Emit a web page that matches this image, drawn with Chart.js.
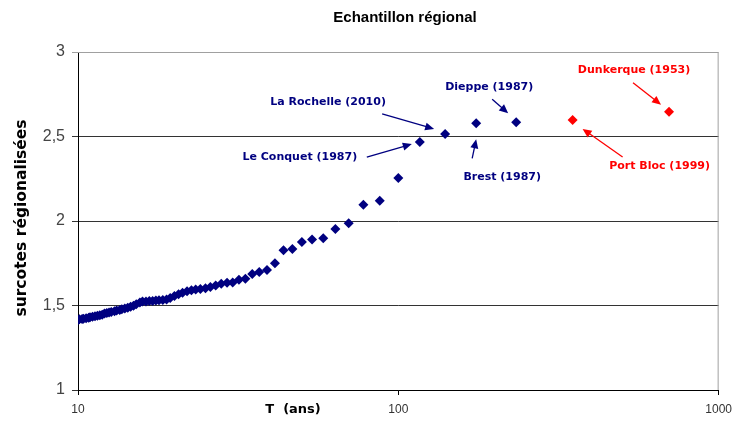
<!DOCTYPE html>
<html>
<head>
<meta charset="utf-8">
<script src="https://cdn.jsdelivr.net/npm/chart.js@4.4.0/dist/chart.umd.min.js"></script>
<style>
  html, body { margin: 0; padding: 0; background: #fff; }
  #wrap { width: 739px; height: 426px; }
</style>
</head>
<body>
<div id="wrap"><canvas id="chart"></canvas></div>
<script>
// --- DATA ---
const returnPeriods = [233.3, 175, 140, 116.7, 100, 87.5, 77.8, 70, 63.6, 58.3, 53.8, 50, 46.7, 43.8, 41.2, 38.9,
  36.8, 35, 33.3, 31.8, 30.4, 29.2, 28, 26.9, 25.9, 25, 24.1, 23.3, 22.6, 21.9, 21.2, 20.6, 20, 19.4, 18.9, 18.4,
  17.9, 17.5, 17.1, 16.7, 16.3, 15.9, 15.6, 15.2, 14.9, 14.6, 14.3, 14, 13.7, 13.5, 13.2, 13, 12.7, 12.5, 12.3,
  12.1, 11.9, 11.7, 11.5, 11.3, 11.1, 10.9, 10.8, 10.6, 10.4, 10.3, 10.1, 10];
const surcotes = [2.584, 2.578, 2.515, 2.467, 2.254, 2.12, 2.096, 1.986, 1.953, 1.898, 1.891, 1.876, 1.834, 1.827,
  1.750, 1.710, 1.698, 1.686, 1.659, 1.653, 1.636, 1.635, 1.629, 1.619, 1.609, 1.602, 1.597, 1.594, 1.590, 1.585,
  1.576, 1.566, 1.556, 1.545, 1.535, 1.533, 1.531, 1.529, 1.527, 1.526, 1.524, 1.523, 1.518, 1.507, 1.498, 1.492,
  1.487, 1.482, 1.478, 1.474, 1.470, 1.466, 1.462, 1.458, 1.455, 1.452, 1.446, 1.443, 1.440, 1.437, 1.433, 1.430,
  1.428, 1.425, 1.422, 1.420, 1.418, 1.414];
const redPeriods = [350, 700];
const redSurcotes = [2.598, 2.647];
const xTicks = [10, 100, 1000];
const yTicks = [1, 1.5, 2, 2.5, 3];

// labelled events: which point they point to
const eventLabels = ["La Rochelle (2010)", "Le Conquet (1987)", "Dieppe (1987)", "Brest (1987)", "Dunkerque (1953)", "Port Bloc (1999)"];
const eventT = [140, 116.7, 233.3, 175, 700, 350];
const eventV = [2.515, 2.467, 2.584, 2.578, 2.647, 2.598];
const eventRed = [false, false, false, false, true, true];

const NAVY = '#000080';
const RED = '#ff0000';

// pixel offsets from the point: arrow tip, arrow tail, label centre
const eventLayout = [
  { tip: [-11, -5], tail: [-63, -20], label: [-117, -32] },
  { tip: [-8, 2], tail: [-53, 15], label: [-120, 15] },
  { tip: [-8, -9], tail: [-24, -23], label: [-27, -35] },
  { tip: [0, 16], tail: [-4, 35], label: [26, 54] },
  { tip: [-8, -7], tail: [-36, -29], label: [-35, -42] },
  { tip: [10, 9], tail: [50, 37], label: [87, 46] },
];

function arrow(ctx, x1, y1, x2, y2, color) {
  const ang = Math.atan2(y2 - y1, x2 - x1);
  const len = 9, half = 4;
  ctx.strokeStyle = color;
  ctx.fillStyle = color;
  ctx.lineWidth = 1.3;
  ctx.beginPath();
  ctx.moveTo(x1, y1);
  ctx.lineTo(x2 - Math.cos(ang) * len * 0.8, y2 - Math.sin(ang) * len * 0.8);
  ctx.stroke();
  ctx.beginPath();
  ctx.moveTo(x2, y2);
  ctx.lineTo(x2 - len * Math.cos(ang) + half * Math.sin(ang), y2 - len * Math.sin(ang) - half * Math.cos(ang));
  ctx.lineTo(x2 - len * Math.cos(ang) - half * Math.sin(ang), y2 - len * Math.sin(ang) + half * Math.cos(ang));
  ctx.closePath();
  ctx.fill();
}

const decor = {
  id: 'decor',
  afterDraw(chart) {
    const ctx = chart.ctx;
    const area = chart.chartArea;
    const xs = chart.scales.x, ys = chart.scales.y;
    ctx.save();

    // light frame on top and right
    ctx.strokeStyle = '#a0a0a0';
    ctx.lineWidth = 1;
    ctx.beginPath();
    ctx.moveTo(area.left, area.top + 0.5);
    ctx.lineTo(area.right - 0.5, area.top + 0.5);
    ctx.lineTo(area.right - 0.5, area.bottom);
    ctx.stroke();

    // titles
    ctx.fillStyle = '#000';
    ctx.textAlign = 'center';
    ctx.textBaseline = 'middle';
    ctx.font = 'bold 15px "Liberation Sans", Arial, sans-serif';
    ctx.fillText('Echantillon régional', 405, 18);
    ctx.font = 'bold 13px "DejaVu Sans", sans-serif';
    ctx.fillText('T  (ans)', 293, 410);
    ctx.save();
    ctx.translate(22, 218);
    ctx.rotate(-Math.PI / 2);
    ctx.font = 'bold 15.5px "DejaVu Sans", sans-serif';
    ctx.fillText('surcotes régionalisées', 0, 0);
    ctx.restore();

    // annotations
    ctx.font = 'bold 11px "DejaVu Sans", sans-serif';
    eventLabels.forEach((txt, i) => {
      const px = xs.getPixelForValue(eventT[i]);
      const py = ys.getPixelForValue(eventV[i]);
      const L = eventLayout[i];
      const color = eventRed[i] ? RED : NAVY;
      arrow(ctx, px + L.tail[0], py + L.tail[1], px + L.tip[0], py + L.tip[1], color);
      ctx.fillStyle = color;
      ctx.fillText(txt, px + L.label[0], py + L.label[1]);
    });
    ctx.restore();
  }
};

new Chart(document.getElementById('chart'), {
  type: 'scatter',
  data: {
    datasets: [
      {
        data: returnPeriods.map((t, i) => ({ x: t, y: surcotes[i] })),
        backgroundColor: NAVY, borderColor: NAVY, borderWidth: 0,
        pointStyle: 'rectRot', pointRadius: 5,
      },
      {
        data: redPeriods.map((t, i) => ({ x: t, y: redSurcotes[i] })),
        backgroundColor: RED, borderColor: RED, borderWidth: 0,
        pointStyle: 'rectRot', pointRadius: 5,
      }
    ]
  },
  options: {
    responsive: true,
    maintainAspectRatio: false,
    animation: false,
    layout: { padding: { top: 52, right: 18, left: 0, bottom: 0 } },
    plugins: { legend: { display: false }, tooltip: { enabled: false } },
    scales: {
      x: {
        type: 'logarithmic', min: 10, max: 1000,
        afterBuildTicks: (s) => { s.ticks = xTicks.map(v => ({ value: v })); },
        afterFit: (s) => { s.height = 36; },
        grid: { drawOnChartArea: false, drawTicks: true, tickLength: 5, color: '#000' },
        border: { color: '#000', width: 1 },
        ticks: {
          autoSkip: false, maxRotation: 0, padding: 7, color: '#333',
          font: { family: '"Liberation Sans", Arial, sans-serif', size: 12 },
          callback: (v) => String(v)
        }
      },
      y: {
        min: 1, max: 3,
        afterBuildTicks: (s) => { s.ticks = yTicks.map(v => ({ value: v })); },
        afterFit: (s) => { s.width = 78; },
        grid: {
          drawTicks: true, tickLength: 6,
          color: (c) => c.tick && c.tick.value === 3 ? '#a0a0a0' : '#333'
        },
        border: { color: '#000', width: 1 },
        ticks: {
          padding: 7, color: '#444',
          font: { family: '"Liberation Sans", Arial, sans-serif', size: 16 },
          callback: (v) => String(v).replace('.', ',')
        }
      }
    }
  },
  plugins: [decor]
});
</script>
</body>
</html>
